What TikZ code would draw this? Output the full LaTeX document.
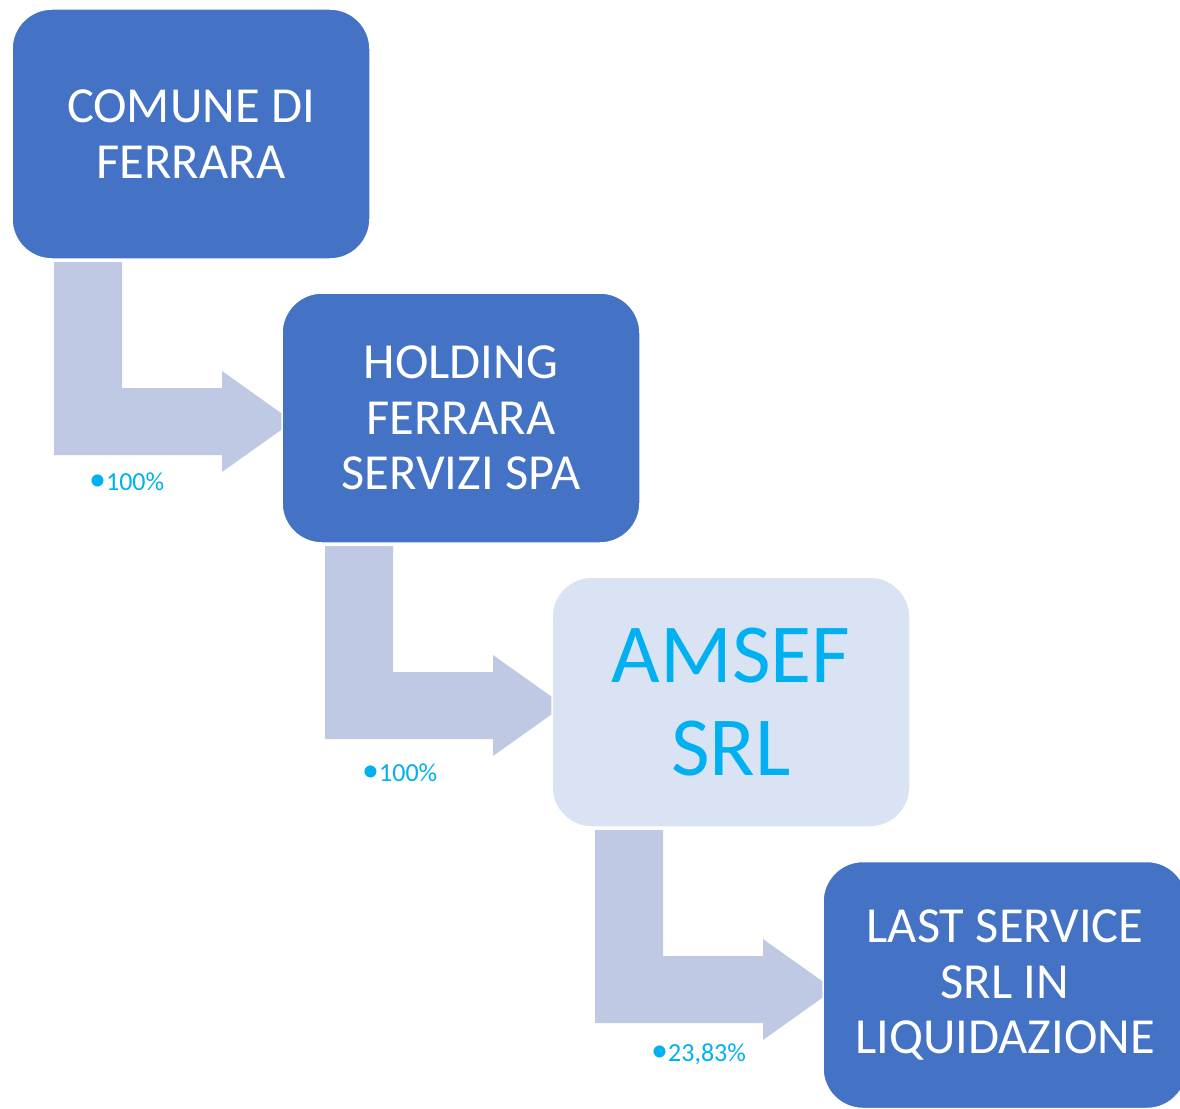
\documentclass[tikz,border=0pt]{standalone}
\usepackage{fontspec}
\setmainfont{Carlito}
\definecolor{boxblue}{HTML}{4472C4}
\definecolor{boxlight}{HTML}{DAE3F3}
\definecolor{arrowfill}{HTML}{BFC9E3}
\definecolor{cyantext}{HTML}{00B0F0}
\newcommand{\bigbul}{{\fontsize{34}{34}\selectfont •}}
\tikzset{
  orgbox/.style={rectangle, rounded corners=40pt, fill=boxblue, draw=white, line width=1.5pt,
    minimum width=358pt, minimum height=250pt, inner sep=0pt, align=center, text=white,
    font=\fontsize{50.5}{55.5}\selectfont},
  lightbox/.style={orgbox, fill=boxlight, text=cyantext, font=\fontsize{84}{93}\selectfont},
  bentarrow/.style={fill=arrowfill, draw=none},
  pctlabel/.style={anchor=west, inner sep=0pt, text=cyantext, font=\fontsize{26}{28}\selectfont}
}
\begin{document}
\begin{tikzpicture}[x=1pt,y=-1pt]
\useasboundingbox (0,0) rectangle (1180,1108);
\clip (0,0) rectangle (1180,1108);
% arrows first (under boxes)
\coordinate (a1) at (54,262);
\coordinate (a2) at (325,546);
\coordinate (a3) at (595,830);
\foreach \a in {a1,a2,a3}{
  \path[bentarrow, shift={(\a)}] (0,0) -- (68,0) -- (68,126) -- (168,126) -- (168,109)
     -- (239,159.5) -- (168,210) -- (168,193) -- (0,193) -- cycle;
}
% boxes
\node[orgbox] (b1) at (191,134) {COMUNE DI\\FERRARA};
\node[orgbox] (b2) at (461,418) {HOLDING\\FERRARA\\SERVIZI SPA};
\node[lightbox] (b3) at (731,702) {AMSEF\\SRL};
\node[orgbox, minimum width=364pt, minimum height=247pt] (b4) at (1005,985) {LAST SERVICE\\SRL IN\\LIQUIDAZIONE};
% labels
\node[pctlabel] (l1) at (89,482) {\bigbul100\%};
\node[pctlabel] (l2) at (362,773) {\bigbul100\%};
\node[pctlabel] (l3) at (651,1054) {\bigbul23,83\%};
\end{tikzpicture}
\end{document}
